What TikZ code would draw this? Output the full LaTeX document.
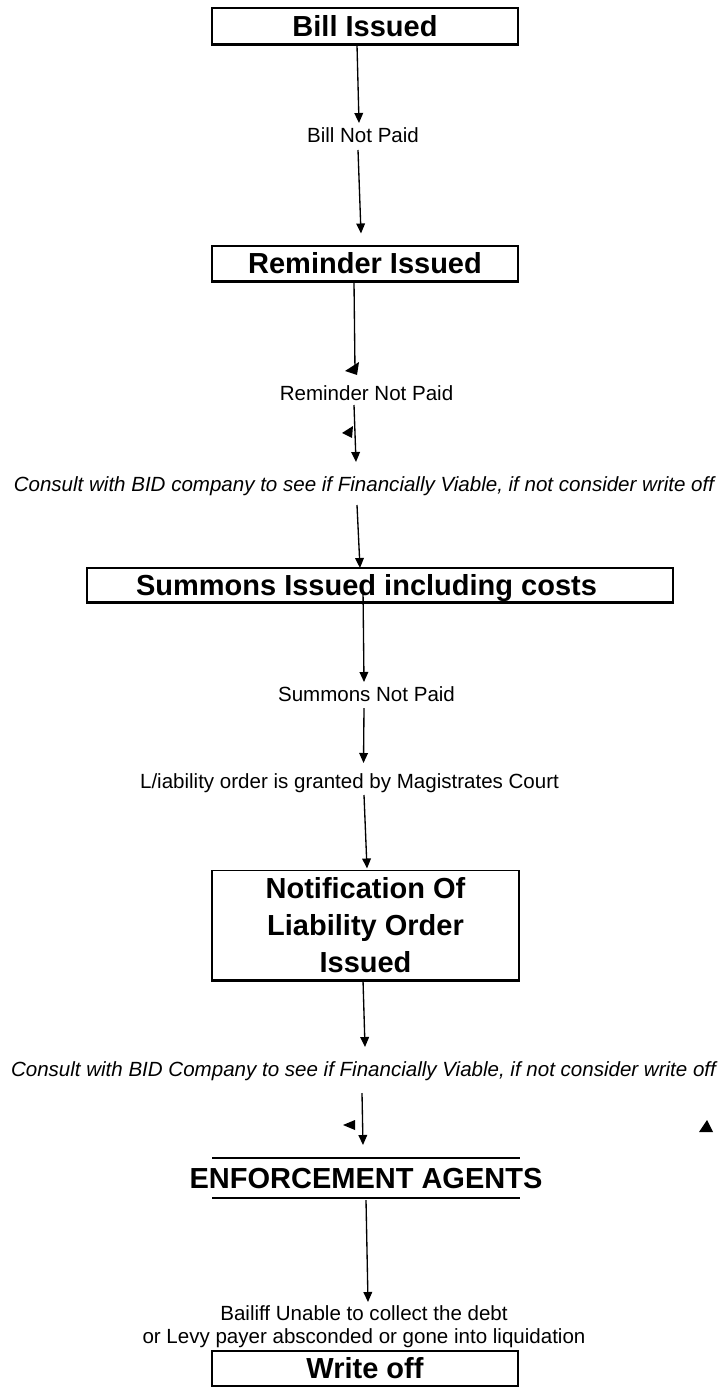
\documentclass[tikz,border=0pt]{standalone}
\usepackage{fontspec}
\setmainfont{Liberation Sans}
\usetikzlibrary{arrows.meta,calc}
\tikzset{
  boxstyle/.style={draw, line width=1.1pt, inner sep=0pt,
    font=\bfseries\fontsize{21.75}{27.75}\selectfont, text height=15.57pt, text depth=0pt},
  framestyle/.style={draw, line width=1.1pt, inner sep=0pt},
  titletext/.style={inner sep=0pt,
    font=\bfseries\fontsize{21.75}{27.75}\selectfont, text height=15.57pt, text depth=0pt},
  lbl/.style={inner sep=0pt, font=\fontsize{15.4}{17.25}\selectfont,
    text height=11.03pt, text depth=0pt},
  itlbl/.style={inner sep=0pt, font=\itshape\fontsize{15.4}{17.25}\selectfont,
    text height=11.03pt, text depth=0pt},
  arr/.style={line width=1pt, -{Triangle[length=7.5pt,width=6.5pt]}},
  plainline/.style={line width=1pt},
  stray/.style={fill=black},
  heavyedge/.style={line width=2.2pt},
  thinedge/.style={line width=1.1pt}
}
\begin{document}
\begin{tikzpicture}[x=0.75pt,y=-0.75pt]
\useasboundingbox (0,0) rectangle (721,1387);

% boxes and texts
\node[boxstyle, minimum width=229.5pt, minimum height=27pt] (bill) at (365,26) {Bill Issued};
\node[lbl] (bnp) at (363,135) {Bill Not Paid};
\node[boxstyle, minimum width=229.5pt, minimum height=26.25pt] (reminder) at (365,263.5) {Reminder Issued};
\node[lbl] (rnp) at (366.5,393) {Reminder Not Paid};
\node[itlbl] (consult1) at (364,484) {Consult with BID company to see if Financially Viable, if not consider write off};
\node[framestyle, minimum width=439.5pt, minimum height=25.5pt] (summonsbox) at (380,585) {};
\node[titletext] (summons) at (366.5,585) {Summons Issued including costs};
\node[lbl] (snp) at (366.5,694) {Summons Not Paid};
\node[lbl] (lo) at (349.5,781) {L/iability order is granted by Magistrates Court};
\node[framestyle, minimum width=230.25pt, minimum height=81.75pt, align=center,
  font=\bfseries\fontsize{21.75}{28}\selectfont] (notif) at (365.5,925)
  {Notification Of\\Liability Order\\Issued};
\node[itlbl] (consult2) at (363.5,1069) {Consult with BID Company to see if Financially Viable, if not consider write off};
\node[titletext] (enf) at (366,1178) {ENFORCEMENT AGENTS};
\node[inner sep=0pt, align=center, font=\fontsize{15.4}{17.25}\selectfont] (bailiff) at (364,1327)
  {Bailiff Unable to collect the debt\\or Levy payer absconded or gone into liquidation};
\node[boxstyle, minimum width=229.5pt, minimum height=26.25pt] (writeoff) at (365,1368.5) {Write off};

% heavier bottom edges of the boxes
\draw[heavyedge] (bill.south west) -- (bill.south east);
\draw[heavyedge] (reminder.south west) -- (reminder.south east);
\draw[heavyedge] (summonsbox.south west) -- (summonsbox.south east);
\draw[heavyedge] (notif.south west) -- (notif.south east);

% rules above and below ENFORCEMENT AGENTS
\draw[thinedge] ($(enf.center)+(-154,-20)$) -- ($(enf.center)+(154,-20)$);
\draw[heavyedge] ($(enf.center)+(-154,20)$) -- ($(enf.center)+(154,20)$);

% connectors
\draw[arr] ($(bill.center)+(-8,19)$) -- ($(bnp.center)+(-4,-12)$);
\draw[arr] ($(bnp.center)+(-5,15)$) -- ($(reminder.center)+(-4,-30)$);
\draw[plainline] ($(reminder.center)+(-11,18.5)$) -- ($(rnp.center)+(-11.5,-22)$);
\draw[arr] ($(rnp.center)+(-12.5,12)$) -- ($(consult1.center)+(-8,-22)$);
\draw[arr] ($(consult1.center)+(-7,21)$) -- ($(summonsbox.center)+(-20,-17)$);
\draw[arr] ($(summons.center)+(-3.5,5)$) -- ($(snp.center)+(-2.5,-12)$);
\draw[arr] ($(snp.center)+(-2.5,14)$) -- ($(lo.center)+(14,-18)$);
\draw[arr] ($(lo.center)+(14.5,14)$) -- ($(notif.center)+(1.5,-56.5)$);
\draw[arr] ($(notif.center)+(-2.5,55)$) -- ($(consult2.center)+(1.5,-22)$);
\draw[arr] ($(consult2.center)+(-1.5,24)$) -- ($(enf.center)+(-3,-33)$);
\draw[arr] ($(enf.center)+(0,22)$) -- ($(bailiff.center)+(4,-25)$);

% stray arrowheads
\fill[stray] (345,371) -- (359,362) -- (357,375) -- cycle;
\fill[stray] (342,433) -- (353,426) -- (352,438) -- cycle;
\fill[stray] (343,1125) -- (355,1120) -- (355,1130) -- cycle;
\fill[stray] (699,1132) -- (707,1120) -- (713,1132) -- cycle;
\end{tikzpicture}
\end{document}
